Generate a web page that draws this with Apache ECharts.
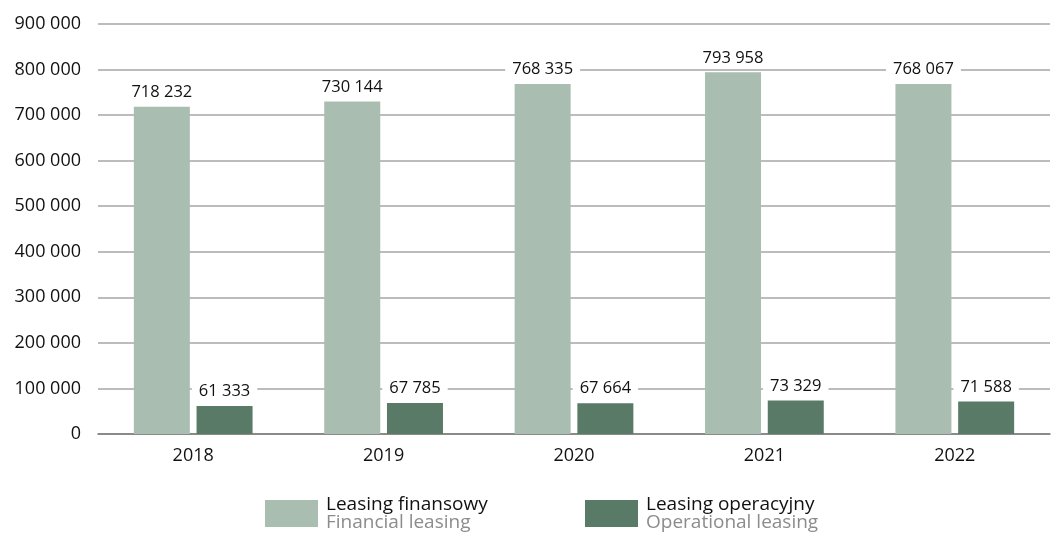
<!DOCTYPE html>
<html>
<head>
<meta charset="utf-8">
<script src="https://cdn.jsdelivr.net/npm/echarts@6/dist/echarts.min.js"></script>
<style>
  html, body { margin: 0; padding: 0; background: #fff; }
  #demo { width: 1051px; height: 538px; }
</style>
</head>
<body>
<div id="demo"></div>
<script>
// dane z wykresu
var years = ['2018', '2019', '2020', '2021', '2022'];
var finansowy = [718232, 730144, 768335, 793958, 768067];
var operacyjny = [61333, 67785, 67664, 73329, 71588];
var yTicks = [0, 100000, 200000, 300000, 400000, 500000, 600000, 700000, 800000, 900000];

var FONT = 'Open Sans';

// 718232 -> "718 232"
function fmt(v) {
    return String(v).replace(/\B(?=(\d{3})+(?!\d))/g, ' ');
}

var myChart = echarts.init(document.getElementById('demo'));

var labelStyle = {
    show: true,
    position: 'top',
    distance: 6,
    color: '#111',
    fontFamily: FONT,
    fontSize: 16.5,
    backgroundColor: '#fff',
    padding: [0, 7],
    formatter: function (p) { return fmt(p.value); }
};

function legendBox(left, name, en) {
    return {
        left: left,
        top: 490,
        itemWidth: 53,
        itemHeight: 27,
        itemGap: 0,
        icon: 'rect',
        data: [name],
        formatter: function () {
            return '{a|' + name + '}\n{b|' + en + '}';
        },
        textStyle: {
            padding: [0, 0, 0, 3],
            rich: {
                a: { fontFamily: FONT, fontSize: 19, color: '#111', lineHeight: 18 },
                b: { fontFamily: FONT, fontSize: 19, color: '#8c8c8c', lineHeight: 18 }
            }
        }
    };
}

var option = {
    animation: false,
    color: ['#a9bdb0', '#587a66'],
    grid: {
        left: 98,
        right: 1,
        top: 24,
        bottom: 104
    },
    legend: [
        legendBox(260, 'Leasing finansowy', 'Financial leasing'),
        legendBox(580, 'Leasing operacyjny', 'Operational leasing')
    ],
    xAxis: {
        type: 'category',
        data: years,
        axisTick: { show: false },
        axisLine: { lineStyle: { color: '#7a7a7a', width: 1.5 } },
        axisLabel: {
            color: '#111',
            fontFamily: FONT,
            fontSize: 18,
            margin: 13
        }
    },
    yAxis: {
        type: 'value',
        min: yTicks[0],
        max: yTicks[yTicks.length - 1],
        interval: yTicks[1] - yTicks[0],
        axisLine: { show: false },
        axisTick: { show: false },
        splitLine: { lineStyle: { color: '#a6a6a6', width: 1.5 } },
        axisLabel: {
            color: '#111',
            fontFamily: FONT,
            fontSize: 18,
            margin: 17,
            formatter: function (v) { return fmt(v); }
        }
    },
    series: [
        {
            name: 'Leasing finansowy',
            type: 'bar',
            barWidth: 56,
            barGap: '12%',
            label: labelStyle,
            data: finansowy
        },
        {
            name: 'Leasing operacyjny',
            type: 'bar',
            barWidth: 56,
            barGap: '12%',
            label: labelStyle,
            data: operacyjny
        }
    ]
};

myChart.setOption(option);
</script>
</body>
</html>
